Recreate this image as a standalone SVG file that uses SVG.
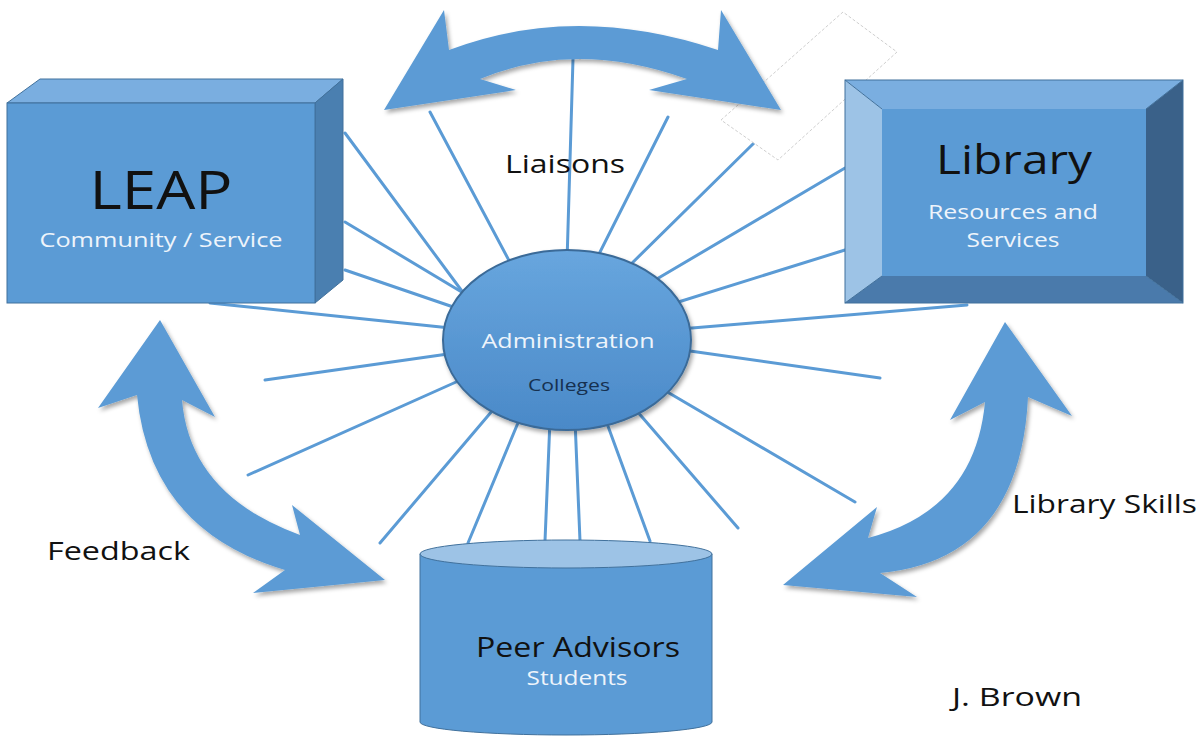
<svg xmlns="http://www.w3.org/2000/svg" width="1200" height="737" viewBox="0 0 1200 737">
<defs>
<style>
.spoke{stroke:#5b9bd5;stroke-width:3;fill:none;stroke-linecap:round}
.arrow{fill:#5b9bd5;filter:url(#sh)}
.t{font-family:"Open Sans","DejaVu Sans",sans-serif}
.blk{fill:#111111}
.wht{fill:#eef4fb}
.edge{stroke:#41719c;stroke-width:1}
</style>
<filter id="sh" x="-10%" y="-10%" width="130%" height="130%">
<feDropShadow dx="2" dy="3" stdDeviation="2" flood-color="#000" flood-opacity="0.35"/>
</filter>
<linearGradient id="eg" x1="0" y1="0" x2="0" y2="1">
<stop offset="0" stop-color="#68a6de"/>
<stop offset="1" stop-color="#4a89c8"/>
</linearGradient>
</defs>

<g id="connectors">
<line class="spoke" x1="573" y1="59" x2="567" y2="262"/>
<line class="spoke" x1="430" y1="112" x2="513" y2="268"/>
<line class="spoke" x1="345" y1="133" x2="470" y2="302"/>
<line class="spoke" x1="345" y1="222" x2="470" y2="297"/>
<line class="spoke" x1="345" y1="270" x2="465" y2="311"/>
<line class="spoke" x1="210" y1="303" x2="460" y2="329"/>
<line class="spoke" x1="265" y1="380" x2="455" y2="353"/>
<line class="spoke" x1="248" y1="475" x2="465" y2="378"/>
<line class="spoke" x1="380" y1="543" x2="498" y2="404"/>
<line class="spoke" x1="468" y1="543" x2="520" y2="418"/>
<line class="spoke" x1="545" y1="541" x2="550" y2="420"/>
<line class="spoke" x1="580" y1="541" x2="575" y2="420"/>
<line class="spoke" x1="650" y1="541" x2="605" y2="418"/>
<line class="spoke" x1="738" y1="528" x2="636" y2="410"/>
<line class="spoke" x1="855" y1="502" x2="664" y2="390"/>
<line class="spoke" x1="880" y1="378" x2="683" y2="350"/>
<line class="spoke" x1="967" y1="305" x2="680" y2="329"/>
<line class="spoke" x1="845" y1="250" x2="672" y2="304"/>
<line class="spoke" x1="845" y1="168" x2="650" y2="283"/>
<line class="spoke" x1="755" y1="142" x2="625" y2="270"/>
<line class="spoke" x1="668" y1="117" x2="596" y2="260"/>

<polygon points="721,120 843,12 897,52 778,160" fill="#ffffff" stroke="#cfcfcf" stroke-width="1" stroke-dasharray="3,2"/>

<path class="arrow" d="M384,110 L444,10 L449,50 Q575,2 718,50 L721,10 L781,110 L649,90 L687,79 Q575,39 480,79 L516,90 Z"/>
<path class="arrow" d="M160,320 L215,417 L182,400 Q190,495 300,535 L292,505 L385,580 L253,593 L285,570 Q150,530 137,395 L98,408 Z"/>
<path class="arrow" d="M1005,322 L1072,416 L1028,397 Q1020,560 880,573 L917,597 L783,585 L877,507 L868,538 Q975,510 985,402 L950,420 Z"/>

<text class="t blk" x="565" y="173" font-size="26" text-anchor="middle" textLength="120" lengthAdjust="spacingAndGlyphs">Liaisons</text>
<text class="t blk" x="47" y="560" font-size="26" textLength="143" lengthAdjust="spacingAndGlyphs">Feedback</text>
<text class="t blk" x="1012" y="513" font-size="26" textLength="185" lengthAdjust="spacingAndGlyphs">Library Skills</text>
</g>

<g id="node-leap">
<polygon points="7,103 40,79 343,79 315,103" fill="#7aaee0" class="edge"/>
<polygon points="315,103 343,79 343,280 315,303" fill="#4a7fb0" class="edge"/>
<rect x="7" y="103" width="308" height="200" fill="#5b9bd5" class="edge"/>
<text class="t blk" x="161" y="209" font-size="53" text-anchor="middle" textLength="143" lengthAdjust="spacingAndGlyphs">LEAP</text>
<text class="t wht" x="161" y="247" font-size="20" text-anchor="middle" textLength="243" lengthAdjust="spacingAndGlyphs">Community / Service</text>
</g>

<g id="node-library">
<polygon points="845,80 1183,80 1146,109 882,109" fill="#7aaee0"/>
<polygon points="845,80 882,109 882,276 845,303" fill="#9dc3e6"/>
<polygon points="1183,80 1183,303 1146,276 1146,109" fill="#3a6189"/>
<polygon points="845,303 882,276 1146,276 1183,303" fill="#4a7aab"/>
<rect x="882" y="109" width="264" height="167" fill="#5b9bd5"/>
<rect x="845" y="80" width="338" height="223" fill="none" class="edge"/>
<g stroke="#41719c" stroke-width="1"><line x1="845" y1="80" x2="882" y2="109"/><line x1="1183" y1="80" x2="1146" y2="109"/><line x1="845" y1="303" x2="882" y2="276"/><line x1="1183" y1="303" x2="1146" y2="276"/></g>
<text class="t blk" x="1014" y="174" font-size="40" text-anchor="middle" textLength="156" lengthAdjust="spacingAndGlyphs">Library</text>
<text class="t wht" x="1013" y="219" font-size="20" text-anchor="middle" textLength="170" lengthAdjust="spacingAndGlyphs">Resources and</text>
<text class="t wht" x="1013" y="247" font-size="20" text-anchor="middle" textLength="93" lengthAdjust="spacingAndGlyphs">Services</text>
</g>

<g id="node-admin">
<ellipse cx="567" cy="340" rx="124" ry="90" fill="url(#eg)" stroke="#3b6b98" stroke-width="2" filter="url(#sh)"/>
<text class="t wht" x="568" y="348" font-size="20" text-anchor="middle" textLength="173" lengthAdjust="spacingAndGlyphs">Administration</text>
<text class="t" x="569" y="391" font-size="17" fill="#16304f" text-anchor="middle" textLength="82" lengthAdjust="spacingAndGlyphs">Colleges</text>
</g>

<g id="node-peer">
<path d="M420,554 L420,722 A146,13 0 0 0 712,722 L712,554 Z" fill="#5b9bd5" class="edge"/>
<ellipse cx="566" cy="554" rx="146" ry="14" fill="#9dc3e6" class="edge"/>
<text class="t blk" x="578" y="657" font-size="28" text-anchor="middle" textLength="204" lengthAdjust="spacingAndGlyphs">Peer Advisors</text>
<text class="t wht" x="577" y="685" font-size="20" text-anchor="middle" textLength="101" lengthAdjust="spacingAndGlyphs">Students</text>
</g>

<g id="author">
<text class="t blk" x="952" y="706" font-size="26" textLength="130" lengthAdjust="spacingAndGlyphs">J. Brown</text>
</g>
</svg>
